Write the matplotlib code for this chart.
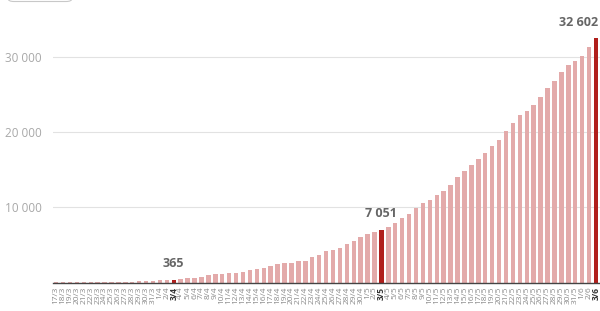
import matplotlib
matplotlib.use("Agg")
import matplotlib.pyplot as plt
from matplotlib.patches import FancyBboxPatch

plt.rcParams['font.family'] = ['Open Sans', 'DejaVu Sans']

# ---- data ----
march = [f"{d}/3" for d in range(17, 32)]
april = [f"{d}/4" for d in range(1, 31)]
may = [f"{d}/5" for d in range(1, 32)]
june = [f"{d}/6" for d in range(1, 4)]
dates = march + april + may + june

values = [
    # March 17-31
    3, 7, 10, 12, 15, 20, 25, 35, 45, 60, 80, 110, 140, 180, 230,
    # April 1-30
    270, 310, 365, 520, 560, 600, 780, 950, 1100, 1180, 1250, 1320, 1450, 1600,
    1750, 1910, 2130, 2440, 2530, 2560, 2800, 2890, 3380, 3690, 4130, 4360,
    4580, 5110, 5520, 6010,
    # May 1-31
    6400, 6750, 7051, 7320, 7940, 8550, 9080, 9960, 10570, 10920, 11670, 12240,
    13000, 14000, 14900, 15700, 16400, 17200, 18100, 18900, 20190, 21210,
    22320, 22760, 23610, 24680, 25830, 26850, 28010, 28900, 29430,
    # June 1-3
    30190, 31350, 32602,
]
highlight = ["3/4", "3/5", "3/6"]
yticks = [10000, 20000, 30000]
ytick_labels = ["10 000", "20 000", "30 000"]

light = "#e3aaaa"
dark = "#b01f1c"

fig = plt.figure(figsize=(6.0, 3.11), dpi=100)
ax = fig.add_axes([53 / 600, 1 - 282.5 / 311, 547 / 600, 255.5 / 311])

x = list(range(len(dates)))
colors = [dark if d in highlight else light for d in dates]
ax.bar(x, values, width=0.64, color=colors, zorder=3)

ax.set_xlim(-0.45, len(dates) - 1 + 0.58)
ax.set_ylim(0, 34000)

ax.set_yticks(yticks)
ax.set_yticklabels(ytick_labels, fontsize=8.5, color="#a8a8a8")
ax.tick_params(axis='y', length=0, pad=8)
ax.grid(axis='y', color="#e2e2e2", linewidth=0.8, zorder=0)

ax.set_xticks(x)
ax.set_xticklabels(dates, rotation=90, fontsize=6, color="#8a8a8a")
ax.tick_params(axis='x', length=0, pad=3)
for lbl in ax.get_xticklabels():
    if lbl.get_text() in highlight:
        lbl.set_color("#333333")
        lbl.set_fontweight("bold")

for s in ["top", "right", "left"]:
    ax.spines[s].set_visible(False)
ax.spines["bottom"].set_color("#444444")
ax.spines["bottom"].set_linewidth(1.0)
ax.spines["bottom"].set_zorder(4)

# annotations
for d in highlight:
    i = dates.index(d)
    v = values[i]
    label = f"{v:,}".replace(",", " ")
    if i == len(dates) - 1:
        ax.annotate(label, (i + 0.3, v), xytext=(0, 9), textcoords="offset pixels",
                    ha="right", va="bottom", fontsize=9, fontweight="bold", color="#666666")
    else:
        ax.annotate(label, (i, v), xytext=(0, 10), textcoords="offset pixels",
                    ha="center", va="bottom", fontsize=9, fontweight="bold", color="#666666")

# small button outline at top-left
btn = FancyBboxPatch((8 / 600, 1 - 1.5 / 311), 64 / 600, 20 / 311,
                     boxstyle="round,pad=0,rounding_size=0.01",
                     transform=fig.transFigure, facecolor="white",
                     edgecolor="#c8c8c8", linewidth=0.8)
fig.patches.append(btn)

fig.savefig("out.png", dpi=100)
